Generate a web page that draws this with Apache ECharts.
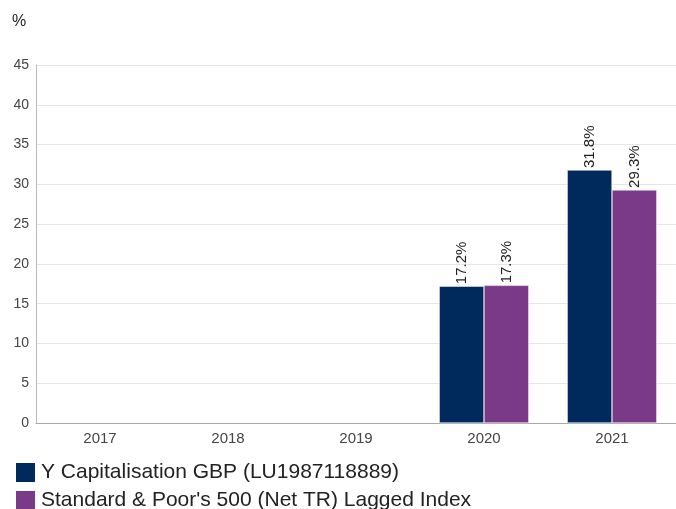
<!DOCTYPE html>
<html><head><meta charset="utf-8">
<script src="https://cdn.jsdelivr.net/npm/echarts@6/dist/echarts.min.js"></script>
<style>html,body{margin:0;padding:0;background:#fff;overflow:hidden}#c{width:676px;height:509px}</style>
</head><body><div id="c"></div>
<script>
const categories = ['2017','2018','2019','2020','2021'];
const fundValues = [null, null, null, 17.2, 31.8];
const indexValues = [null, null, null, 17.3, 29.3];
const yTicks = {min:0, max:45, interval:5};
const seriesNames = ['Y Capitalisation GBP (LU1987118889)', "Standard & Poor's 500 (Net TR) Lagged Index"];

const chart = echarts.init(document.getElementById('c'));
const lbl = {
  show: true, position: 'top', rotate: 90, align: 'left', verticalAlign: 'middle',
  distance: 2, fontFamily: 'Liberation Sans, Arial', fontSize: 15, color: '#222',
  formatter: p => p.value == null ? '' : p.value.toFixed(1) + '%'
};
chart.setOption({
  animation: false,
  textStyle: {fontFamily: 'Liberation Sans, Arial'},
  title: {text: '%', left: 7, top: 9, textStyle: {fontSize: 16, fontWeight: 'normal', color: '#222'}},
  grid: {left: 36, right: 0, top: 65, bottom: 86, containLabel: false},
  legend: {
    orient: 'vertical', left: 14, top: 461, padding: 0, height: 60, itemWidth: 21, itemHeight: 21, itemGap: 5,
    icon: 'rect', textStyle: {fontSize: 21, lineHeight: 21, color: '#222', padding: [0,0,0,0]},
    data: seriesNames
  },
  xAxis: {
    type: 'category', data: categories,
    axisLine: {lineStyle: {color: '#aaa'}}, axisTick: {show: false},
    axisLabel: {fontSize: 15, color: '#444', margin: 8}
  },
  yAxis: {
    type: 'value', min: yTicks.min, max: yTicks.max, interval: yTicks.interval,
    axisLine: {show: true, lineStyle: {color: '#bbb'}}, axisTick: {show: false},
    splitLine: {lineStyle: {color: '#e6e6e6'}},
    axisLabel: {fontSize: 14, color: '#444', margin: 7}
  },
  series: [
    {name: seriesNames[0], type: 'bar', data: fundValues, barGap: '0%', barCategoryGap: '30%',
     itemStyle: {color: '#002a5c', borderColor: '#ffffff', borderWidth: 0.5}, label: lbl},
    {name: seriesNames[1], type: 'bar', data: indexValues,
     itemStyle: {color: '#7b3a87', borderColor: '#ffffff', borderWidth: 0.5}, label: lbl}
  ]
});
</script></body></html>
